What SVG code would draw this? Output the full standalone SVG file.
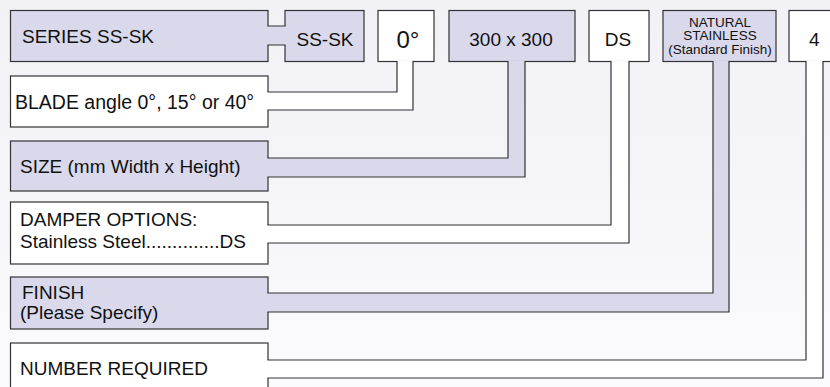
<svg xmlns="http://www.w3.org/2000/svg" width="830" height="387" viewBox="0 0 830 387">
  <defs>
    <linearGradient id="bg" x1="0" y1="0" x2="0" y2="1">
      <stop offset="0" stop-color="#f1f1f6"/>
      <stop offset="1" stop-color="#fbfbfd"/>
    </linearGradient>
  </defs>
  <style>
    .box { stroke: #333; stroke-width: 1.2; }
    .lav { fill: #d9d9eb; }
    .wht { fill: #ffffff; }
    .edge { fill: none; stroke: #333; stroke-width: 1.2; stroke-linecap: square; }
    .band { stroke: none; }
    .t { font-family: "Liberation Sans", Arial, sans-serif; font-size: 19px; fill: #111; }
    .m { text-anchor: middle; }
    .s { font-size: 13.5px; }
    .big { font-size: 24px; }
  </style>
  <rect x="0" y="0" width="830" height="387" fill="url(#bg)"/>

  <g id="n-series">
    <rect class="box lav" x="10.5" y="10.5" width="257.5" height="51"/>
    <text class="t" x="22" y="43">SERIES SS-SK</text>
  </g>
  <g id="n-blade">
    <rect class="box wht" x="10.5" y="76" width="257.5" height="51"/>
    <text class="t" x="15" y="108.5" style="font-size:19.5px">BLADE angle 0°, 15° or 40°</text>
  </g>
  <g id="n-size">
    <rect class="box lav" x="10.5" y="141" width="257.5" height="50"/>
    <text class="t" x="20" y="173">SIZE (mm Width x Height)</text>
  </g>
  <g id="n-damper">
    <rect class="box wht" x="10.5" y="202" width="257.5" height="62"/>
    <text class="t" x="20" y="226">DAMPER OPTIONS:</text>
    <text class="t" x="20" y="248">Stainless Steel..............DS</text>
  </g>
  <g id="n-finish">
    <rect class="box lav" x="10.5" y="277" width="257.5" height="52"/>
    <text class="t" x="22" y="299">FINISH</text>
    <text class="t" x="20" y="318.5">(Please Specify)</text>
  </g>
  <g id="n-number">
    <rect class="box wht" x="10.5" y="343" width="257.5" height="60"/>
    <text class="t" x="20" y="375">NUMBER REQUIRED</text>
  </g>

  <g id="n-sssk">
    <rect class="box lav" x="285" y="10.5" width="79" height="51"/>
    <text class="t m" x="325" y="46">SS-SK</text>
  </g>
  <g id="n-angle">
    <rect class="box wht" x="378" y="10.5" width="56" height="51"/>
    <text class="t m big" x="408" y="48">0°</text>
  </g>
  <g id="n-dims">
    <rect class="box lav" x="449" y="10.5" width="126" height="51"/>
    <text class="t m" x="511" y="46">300 x 300</text>
  </g>
  <g id="n-ds">
    <rect class="box wht" x="589" y="10.5" width="60" height="51"/>
    <text class="t m" x="618" y="46">DS</text>
  </g>
  <g id="n-natural">
    <rect class="box lav" x="663" y="10.5" width="113" height="51"/>
    <text class="t m s" x="720" y="26.5">NATURAL</text>
    <text class="t m s" x="720" y="40.3">STAINLESS</text>
    <text class="t m s" x="720" y="54">(Standard Finish)</text>
  </g>
  <g id="n-qty">
    <rect class="box wht" x="789" y="10.5" width="70" height="51"/>
    <text class="t" x="809" y="46">4</text>
  </g>

  <g id="connectors">
    <rect class="band lav" x="267" y="26" width="19" height="19"/>
    <path class="edge" d="M268,26 H285 M268,45 H285"/>

    <polygon class="band wht" points="267,92 397,92 397,60.5 413,60.5 413,110 267,110"/>
    <path class="edge" d="M268,92 H397 V61.5 M268,110 H413 V61.5"/>

    <polygon class="band lav" points="267,158 508,158 508,60.5 525,60.5 525,177 267,177"/>
    <path class="edge" d="M268,158 H508 V61.5 M268,177 H525 V61.5"/>

    <polygon class="band wht" points="267,225 611,225 611,60.5 629,60.5 629,243 267,243"/>
    <path class="edge" d="M268,225 H611 V61.5 M268,243 H629 V61.5"/>

    <polygon class="band lav" points="267,293 713,293 713,60.5 729,60.5 729,312 267,312"/>
    <path class="edge" d="M268,293 H713 V61.5 M268,312 H729 V61.5"/>

    <polygon class="band wht" points="267,360 806,360 806,60.5 823,60.5 823,378 267,378"/>
    <path class="edge" d="M268,360 H806 V61.5 M268,378 H823 V61.5"/>
  </g>
</svg>
